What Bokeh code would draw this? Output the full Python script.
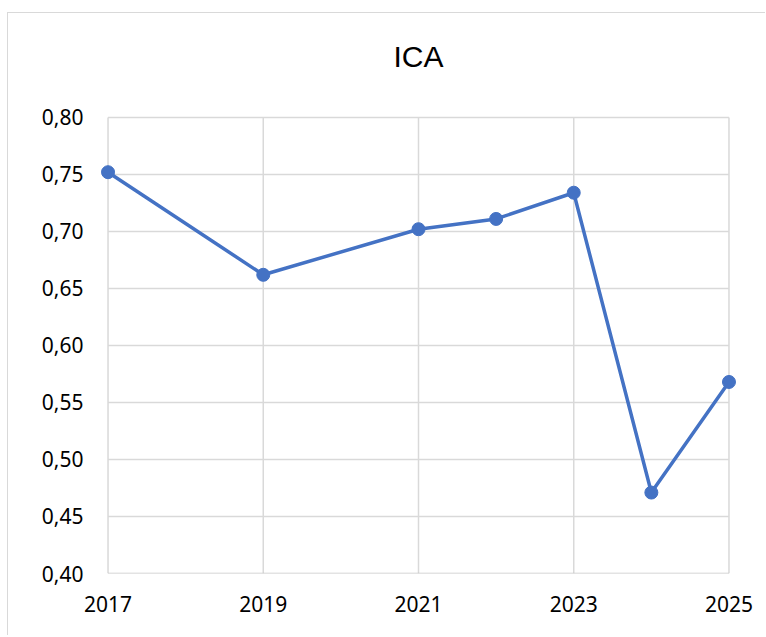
from bokeh.plotting import figure
from bokeh.models import FixedTicker, CustomJSTickFormatter, Range1d, Label
from bokeh.embed import file_html
from bokeh.resources import INLINE

years = [2017, 2019, 2021, 2022, 2023, 2024, 2025]
values = [0.752, 0.662, 0.702, 0.711, 0.734, 0.471, 0.568]
x_ticks = [2017, 2019, 2021, 2023, 2025]
y_ticks = [0.40, 0.45, 0.50, 0.55, 0.60, 0.65, 0.70, 0.75, 0.80]
title_text = "ICA"

blue = "#4472C4"
grid = "#d9d9d9"

x0, x1 = x_ticks[0], x_ticks[-1]
y0, y1 = y_ticks[0], y_ticks[-1]
pad_x = 0.2
head_y = 0.0912   # empty headroom above the plot area that holds the title

p = figure(width=758, height=623, output_backend="svg", toolbar_location=None,
           x_range=Range1d(x0 - pad_x, x1 + pad_x), y_range=Range1d(y0, y1 + head_y),
           min_border_left=84, min_border_right=22, min_border_top=0, min_border_bottom=63)
p.outline_line_color = None
p.background_fill_color = "white"
p.border_fill_color = "white"
p.styles = {"border-left": "1px solid #d9d9d9", "border-top": "1px solid #d9d9d9",
            "margin-left": "7px", "margin-top": "12px"}

p.xaxis.ticker = FixedTicker(ticks=x_ticks)
p.yaxis.ticker = FixedTicker(ticks=y_ticks)
p.yaxis.formatter = CustomJSTickFormatter(code="return tick.toFixed(2).replace('.', ',');")
p.xaxis.formatter = CustomJSTickFormatter(code="return tick.toFixed(0);")

for ax in (p.xaxis[0], p.yaxis[0]):
    ax.major_tick_line_color = None
    ax.minor_tick_line_color = None
    ax.axis_line_color = None
    ax.major_label_text_font = "Noto Sans"
    ax.major_label_text_font_size = "21px"
    ax.major_label_text_color = "#000000"
p.yaxis.major_label_standoff = 3
p.xaxis.major_label_standoff = 16

p.xgrid.grid_line_color = None
p.ygrid.grid_line_color = None

# gridlines limited to the data area
p.segment(x0=x_ticks, y0=[y0] * len(x_ticks), x1=x_ticks, y1=[y1] * len(x_ticks),
          line_color=grid, line_width=1.5)
p.segment(x0=[x0] * len(y_ticks[1:]), y0=y_ticks[1:], x1=[x1] * len(y_ticks[1:]), y1=y_ticks[1:],
          line_color=grid, line_width=1.5)
# bottom axis line
p.segment(x0=[x0], y0=[y0], x1=[x1], y1=[y0], line_color="#c8c8c8", line_width=1.5)

p.line(years, values, line_color=blue, line_width=3.5)
p.scatter(years, values, size=13, fill_color=blue, line_color=blue)

p.add_layout(Label(x=(x0 + x1) / 2, y=y1, y_offset=61, text=title_text,
                   text_align="center", text_baseline="alphabetic",
                   text_font="Liberation Sans", text_font_size="30px",
                   text_color="#000000"))

open("out.html", "w").write(file_html(p, INLINE))
